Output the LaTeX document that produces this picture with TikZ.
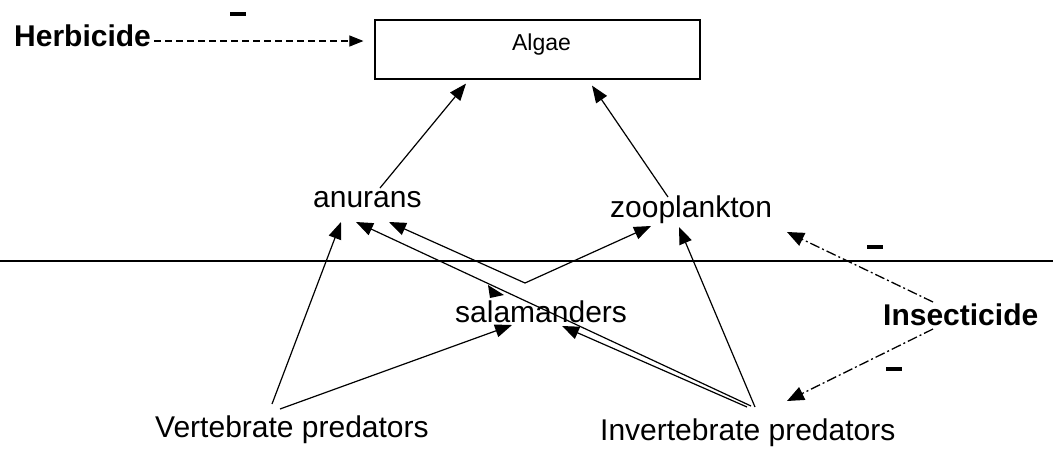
\documentclass[tikz,border=0pt]{standalone}
\usepackage{fontspec}
\setmainfont{Liberation Sans}
\usetikzlibrary{arrows.meta}
\begin{document}
\begin{tikzpicture}[x=1pt,y=-1pt,
  lbl/.style={inner sep=0pt,anchor=base west,font=\fontsize{30}{36}\selectfont},
  blbl/.style={lbl,font=\fontsize{30}{36}\selectfont\bfseries},
  boxnode/.style={draw,line width=1.2pt,minimum width=325pt,minimum height=59pt,inner sep=0pt},
  link/.style={line width=1.2pt,-{Triangle[length=17pt,width=13pt]}},
  herbline/.style={line width=1.1pt,dash pattern=on 7pt off 4pt,-{Triangle[length=14pt,width=11pt]}},
  insline/.style={line width=1.3pt,dash pattern=on 10pt off 3pt on 2pt off 3pt,-{Triangle[length=17pt,width=14pt]}},
  minusbar/.style={fill=black,inner sep=0pt,minimum width=16pt,minimum height=4pt}]
\useasboundingbox[fill=white] (0,0) rectangle (1053,448);

% nodes
\node[blbl] (herb) at (14,46) {Herbicide};
\node[boxnode] (algae) at (537.5,49.5) {};
\node[inner sep=0pt,anchor=base,font=\fontsize{23}{28}\selectfont] (algaelbl) at (541.5,50) {Algae};
\node[lbl] (anurans) at (313,207) {anurans};
\node[lbl] (zoo) at (610,217) {zooplankton};
\node[lbl] (sal) at (455,322) {salamanders};
\node[blbl] (ins) at (883,325) {Insecticide};
\node[lbl] (vert) at (155,437) {Vertebrate predators};
\node[lbl] (inv) at (600,440) {Invertebrate predators};

\node[minusbar] (m1) at (237.5,14) {};
\node[minusbar] (m2) at (874.5,247) {};
\node[minusbar] (m3) at (893.5,369) {};

% water line
\coordinate (wl) at (0,261);
\coordinate (wr) at (1053,261);
\draw[line width=1.1pt] (wl) -- (wr);

% herbicide
\draw[herbline] ([shift={(3,-5)}]herb.base east) -- ([shift={(-11,-8.5)}]algae.west);

% to algae
\draw[link] ([shift={(67,-19)}]anurans.base west) -- ([shift={(-71.5,4)}]algae.south);
\draw[link] ([shift={(58,-20)}]zoo.base west) -- ([shift={(54.5,6)}]algae.south);

% vertebrate predators
\draw[link] ([shift={(117,-33)}]vert.base west) -- ([shift={(28,15)}]anurans.base west);
\draw[link] ([shift={(125,-28)}]vert.base west) -- ([shift={(57,3)}]sal.base west);

% invertebrate predators
\draw[link] ([shift={(151,-34)}]inv.base west) -- ([shift={(43,15)}]anurans.base west);
\draw[link] ([shift={(147,-33)}]inv.base west) -- ([shift={(107,4)}]sal.base west);
\draw[link] ([shift={(155,-33)}]inv.base west) -- ([shift={(69,10)}]zoo.base west);

% salamanders
\coordinate (salv) at ([shift={(70,-39)}]sal.base west);
\draw[link] (salv) -- ([shift={(76,15)}]anurans.base west);
\draw[link] (salv) -- ([shift={(41,9)}]zoo.base west);
\fill (488,285) -- (490,298) -- (504,295) -- cycle;

% insecticide
\draw[insline] ([shift={(50,-23)}]ins.base west) -- ([shift={(177,15)}]zoo.base west);
\draw[insline] ([shift={(50,4)}]ins.base west) -- ([shift={(187,-39)}]inv.base west);
\end{tikzpicture}
\end{document}
